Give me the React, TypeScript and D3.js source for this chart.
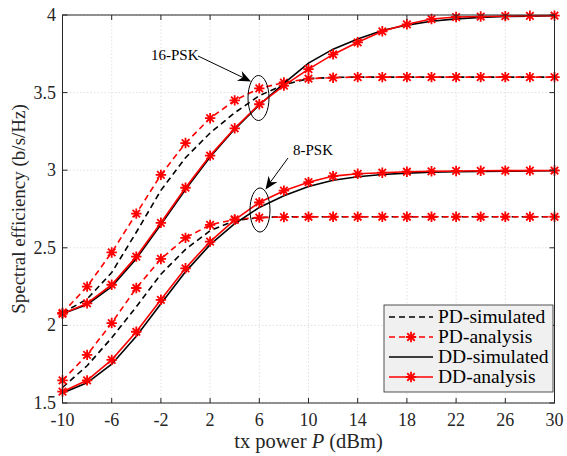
import React from "react";
import * as d3 from "d3";

const txPower = [-10, -8, -6, -4, -2, 0, 2, 4, 6, 8, 10, 12, 14, 16, 18, 20, 22, 24, 26, 28, 30];

const pd16Sim = [2.08, 2.17, 2.34, 2.6, 2.87, 3.08, 3.24, 3.37, 3.48, 3.55, 3.59, 3.598, 3.6, 3.6, 3.6, 3.6, 3.6, 3.6, 3.6, 3.6, 3.6];
const pd16Ana = [2.08, 2.25, 2.47, 2.72, 2.97, 3.175, 3.335, 3.45, 3.527, 3.565, 3.59, 3.596, 3.6, 3.6, 3.6, 3.6, 3.6, 3.6, 3.6, 3.6, 3.6];
const dd16Sim = [2.075, 2.135, 2.25, 2.43, 2.65, 2.875, 3.085, 3.265, 3.42, 3.56, 3.69, 3.78, 3.845, 3.9, 3.935, 3.96, 3.975, 3.985, 3.99, 3.993, 3.995];
const dd16Ana = [2.075, 2.142, 2.262, 2.443, 2.661, 2.887, 3.094, 3.27, 3.425, 3.545, 3.651, 3.746, 3.824, 3.895, 3.94, 3.974, 3.987, 3.99, 3.993, 3.995, 3.996];

const pd8Sim = [1.6, 1.74, 1.92, 2.12, 2.33, 2.49, 2.61, 2.675, 2.695, 2.7, 2.7, 2.7, 2.7, 2.7, 2.7, 2.7, 2.7, 2.7, 2.7, 2.7, 2.7];
const pd8Ana = [1.646, 1.81, 2.015, 2.241, 2.428, 2.564, 2.648, 2.683, 2.695, 2.698, 2.7, 2.7, 2.7, 2.7, 2.7, 2.7, 2.7, 2.7, 2.7, 2.7, 2.7];
const dd8Sim = [1.565, 1.63, 1.75, 1.93, 2.14, 2.345, 2.52, 2.655, 2.76, 2.835, 2.895, 2.935, 2.958, 2.972, 2.981, 2.987, 2.99, 2.992, 2.994, 2.995, 2.996];
const dd8Ana = [1.573, 1.646, 1.778, 1.959, 2.165, 2.368, 2.54, 2.68, 2.792, 2.868, 2.923, 2.962, 2.977, 2.984, 2.99, 2.993, 2.995, 2.996, 2.997, 2.997, 2.998];

const xTicks = [-10, -6, -2, 2, 6, 10, 14, 18, 22, 26, 30];
const yTicks = [1.5, 2, 2.5, 3, 3.5, 4];
const legendLabels = ["PD-simulated", "PD-analysis", "DD-simulated", "DD-analysis"];

const W = 567, H = 456;
const L = 62.5, R = 554.5, T = 15, B = 403;
const RED = "#ff0000";
const INK = "#262626";

const x = d3.scaleLinear().domain([-10, 30]).range([L, R]);
const y = d3.scaleLinear().domain([1.5, 4]).range([B, T]);

function starPath(cx: number, cy: number, r: number) {
  const d = r * 0.72;
  return `M${cx - r},${cy}H${cx + r}M${cx},${cy - r}V${cy + r}M${cx - d},${cy - d}L${cx + d},${cy + d}M${cx - d},${cy + d}L${cx + d},${cy - d}`;
}

function arrowHead(x1: number, y1: number, x2: number, y2: number) {
  const ang = Math.atan2(y2 - y1, x2 - x1);
  const len = 13, hw = 5.5, notch = 9;
  const ux = Math.cos(ang), uy = Math.sin(ang);
  const px = -uy, py = ux;
  const bx = x2 - ux * len, by = y2 - uy * len;
  const nx = x2 - ux * notch, ny = y2 - uy * notch;
  return `M${x2},${y2}L${bx + px * hw},${by + py * hw}L${nx},${ny}L${bx - px * hw},${by - py * hw}Z`;
}

type Series = { vals: number[]; color: string; dash?: string; marker: boolean };

const tStyle = { fontFamily: "Liberation Serif" };

export default function App() {
  const line = d3
    .line<number>()
    .x((_, i) => x(txPower[i]))
    .y((v) => y(v));

  const series: Series[] = [
    { vals: pd16Sim, color: "#000", dash: "6,4", marker: false },
    { vals: pd8Sim, color: "#000", dash: "6,4", marker: false },
    { vals: pd16Ana, color: RED, dash: "6,4", marker: true },
    { vals: pd8Ana, color: RED, dash: "6,4", marker: true },
    { vals: dd16Sim, color: "#000", marker: false },
    { vals: dd8Sim, color: "#000", marker: false },
    { vals: dd16Ana, color: RED, marker: true },
    { vals: dd8Ana, color: RED, marker: true },
  ];

  const legendStyles: Series[] = [
    { vals: [], color: "#000", dash: "6,4", marker: false },
    { vals: [], color: RED, dash: "6,4", marker: true },
    { vals: [], color: "#000", marker: false },
    { vals: [], color: RED, marker: true },
  ];

  const tickLen = 5;

  return (
    <svg width={W} height={H} style={{ position: "absolute", left: 0, top: 0, background: "#fff" }}>
      <rect x={0} y={0} width={W} height={H} fill="#fff" />
      {xTicks.map((t) => (
        <line key={"gx" + t} x1={x(t)} x2={x(t)} y1={T} y2={B} stroke="#d9d9d9" strokeWidth={0.8} strokeDasharray="1.5,2" />
      ))}
      {yTicks.map((t) => (
        <line key={"gy" + t} x1={L} x2={R} y1={y(t)} y2={y(t)} stroke="#d9d9d9" strokeWidth={0.8} strokeDasharray="1.5,2" />
      ))}
      {series.map((s, i) => (
        <g key={"s" + i}>
          <path d={line(s.vals) || ""} fill="none" stroke={s.color} strokeWidth={1.6} strokeDasharray={s.dash} />
          {s.marker &&
            s.vals.map((v, j) => (
              <path key={j} d={starPath(x(txPower[j]), y(v), 5.2)} stroke={s.color} strokeWidth={1.8} fill="none" />
            ))}
        </g>
      ))}
      <rect x={L} y={T} width={R - L} height={B - T} fill="none" stroke={INK} strokeWidth={1} />
      {xTicks.map((t) => (
        <g key={"tx" + t}>
          <line x1={x(t)} x2={x(t)} y1={B} y2={B - tickLen} stroke={INK} />
          <line x1={x(t)} x2={x(t)} y1={T} y2={T + tickLen} stroke={INK} />
          <text x={x(t)} y={426} textAnchor="middle" fontSize={18} fill={INK} style={tStyle}>
            {t}
          </text>
        </g>
      ))}
      {yTicks.map((t) => (
        <g key={"ty" + t}>
          <line x1={L} x2={L + tickLen} y1={y(t)} y2={y(t)} stroke={INK} />
          <line x1={R} x2={R - tickLen} y1={y(t)} y2={y(t)} stroke={INK} />
          <text x={56} y={y(t) + 6} textAnchor="end" fontSize={18} fill={INK} style={tStyle}>
            {t}
          </text>
        </g>
      ))}
      <text x={(L + R) / 2} y={448} textAnchor="middle" fontSize={20.5} fill={INK} style={tStyle}>
        tx power <tspan fontStyle="italic">P</tspan> (dBm)
      </text>
      <text transform={`translate(25,${(T + B) / 2}) rotate(-90)`} textAnchor="middle" fontSize={19} fill={INK} style={tStyle}>
        Spectral efficiency (b/s/Hz)
      </text>
      <ellipse cx={258.5} cy={98} rx={10.5} ry={22.5} fill="none" stroke="#000" strokeWidth={1} />
      <ellipse cx={260} cy={210} rx={10} ry={22} fill="none" stroke="#000" strokeWidth={1} />
      <text x={151} y={60} fontSize={15} fill="#000" style={tStyle}>16-PSK</text>
      <line x1={198} y1={56} x2={244} y2={78} stroke="#000" strokeWidth={1} />
      <path d={arrowHead(198, 56, 251, 81.5)} fill="#000" />
      <text x={293} y={155} fontSize={15} fill="#000" style={tStyle}>8-PSK</text>
      <line x1={288} y1={158} x2={269} y2={184} stroke="#000" strokeWidth={1} />
      <path d={arrowHead(288, 158, 265.5, 189.5)} fill="#000" />
      <rect x={384} y={305} width={169} height={87} fill="#f0f0f0" stroke={INK} strokeWidth={0.8} />
      {legendLabels.map((lab, i) => {
        const ly = 317 + i * 20;
        const s = legendStyles[i];
        return (
          <g key={"lg" + i}>
            <line x1={389} x2={433} y1={ly} y2={ly} stroke={s.color} strokeWidth={1.6} strokeDasharray={s.dash} />
            {s.marker && <path d={starPath(411, ly, 5.2)} stroke={s.color} strokeWidth={1.8} fill="none" />}
            <text x={438} y={ly + 6} fontSize={19.5} fill="#000" style={tStyle}>
              {lab}
            </text>
          </g>
        );
      })}
    </svg>
  );
}
